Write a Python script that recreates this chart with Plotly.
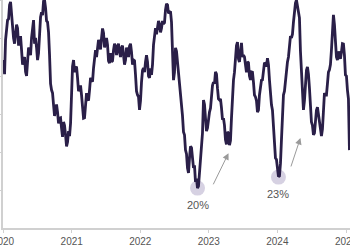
import pandas as pd
import plotly.graph_objects as go

# Series values (percent), evenly spaced from start to end date
start_date = "2020-01-04"
end_date = "2025-01-19"
values = [
    54.2, 50.5, 59.5, 63.5, 64.7, 65.0, 68.7, 69.5, 66.1, 61.0,
    60.0, 58.5, 61.3, 63.5, 62.6, 58.0, 59.5, 60.5, 56.8, 53.0,
    54.2, 55.0, 51.1, 50.0, 53.7, 57.5, 56.8, 55.5, 60.0, 63.5,
    64.7, 58.5, 60.0, 57.5, 54.2, 56.0, 62.1, 65.5, 66.8, 66.0,
    69.7, 70.0, 67.9, 64.5, 64.2, 61.5, 55.5, 48.0, 46.3, 45.5,
    42.4, 39.5, 41.1, 42.5, 40.5, 37.5, 38.9, 39.0, 36.3, 34.0,
    37.9, 37.0, 34.5, 31.5, 32.6, 35.5, 34.2, 37.5, 45.0, 52.5,
    54.2, 51.0, 52.1, 52.5, 49.5, 46.0, 46.8, 47.5, 45.0, 40.5,
    38.9, 39.0, 42.4, 45.5, 44.2, 43.5, 46.3, 49.5, 48.9, 48.5,
    52.1, 55.5, 56.8, 55.0, 57.4, 59.5, 58.4, 57.0, 60.0, 62.5,
    61.3, 57.5, 58.9, 60.0, 58.2, 54.0, 53.4, 56.0, 53.7, 54.0,
    56.8, 58.5, 57.9, 55.5, 57.4, 58.5, 56.3, 55.0, 57.4, 58.0,
    55.5, 53.0, 54.2, 57.5, 56.3, 55.0, 57.9, 58.5, 56.3, 53.0,
    54.2, 54.0, 50.3, 46.0, 45.0, 44.5, 41.1, 43.5, 48.4, 51.5,
    52.1, 51.0, 53.7, 55.5, 53.7, 50.0, 49.5, 52.0, 50.3, 53.0,
    58.2, 61.5, 62.6, 61.0, 63.2, 64.5, 63.7, 61.5, 62.6, 64.5,
    63.7, 64.0, 67.4, 69.0, 68.7, 66.5, 66.8, 67.0, 64.2, 55.0,
    48.9, 51.0, 57.4, 56.5, 53.7, 51.5, 47.6, 46.0, 41.6, 39.5,
    35.3, 34.5, 30.5, 29.5, 25.8, 24.5, 28.4, 31.5, 31.1, 27.0,
    25.8, 26.5, 22.1, 23.0, 20.5, 21.0, 24.7, 28.0, 30.5, 35.0,
    43.7, 42.5, 38.9, 35.5, 36.3, 39.5, 40.5, 41.5, 45.0, 47.5,
    48.4, 48.0, 51.1, 50.5, 46.8, 44.0, 43.7, 44.0, 41.6, 38.5,
    38.9, 37.0, 33.2, 32.0, 35.3, 35.0, 31.8, 33.0, 38.9, 45.5,
    48.9, 51.0, 55.5, 58.0, 58.9, 54.5, 53.7, 57.5, 58.7, 55.0,
    55.5, 55.0, 52.4, 51.0, 53.7, 53.5, 50.0, 49.0, 51.1, 51.0,
    48.4, 45.0, 44.5, 43.5, 40.5, 41.0, 45.0, 48.0, 48.9, 49.0,
    51.6, 53.5, 53.2, 52.5, 54.7, 53.0, 48.9, 44.0, 42.4, 41.0,
    37.1, 31.0, 28.4, 28.0, 24.7, 23.5, 23.7, 27.0, 33.2, 40.5,
    45.0, 46.0, 48.9, 52.5, 53.7, 55.0, 58.2, 60.5, 60.0, 61.0,
    64.2, 67.5, 69.2, 70.0, 68.4, 67.5, 65.3, 56.5, 51.6, 47.0,
    41.1, 43.5, 48.9, 51.5, 52.4, 50.5, 46.8, 41.0, 37.9, 37.0,
    34.5, 35.0, 38.4, 41.0, 41.8, 40.0, 37.1, 36.5, 34.2, 36.0,
    43.2, 45.5, 45.0, 45.0, 47.9, 51.0, 51.6, 53.0, 56.8, 63.0,
    66.1, 63.5, 58.9, 55.0, 54.2, 56.5, 55.5, 54.5, 56.3, 58.5,
    58.4, 55.5, 50.3, 50.0, 46.3, 44.0, 30.5,
]
dates = pd.date_range(start_date, end_date, periods=len(values))

# Highlighted troughs
trough_dates = ["2022-11-02", "2024-01-07"]
trough_values = [20.5, 23.4]
trough_labels = ["20%", "23%"]

year_ticks = ["2020-01-01", "2021-01-01", "2022-01-01", "2023-01-01", "2024-01-01", "2025-01-01"]
year_labels = ["2020", "2021", "2022", "2023", "2024", "2025"]
y_ticks = [20, 30, 40, 50, 60, 70]

fig = go.Figure()
fig.add_trace(go.Scatter(
    x=trough_dates, y=trough_values, mode="markers",
    marker=dict(size=15, color="rgba(200,194,216,0.75)", line=dict(width=0)),
    hoverinfo="skip", showlegend=False,
))
fig.add_trace(go.Scatter(
    x=dates, y=values, mode="lines",
    line=dict(color="#2a1f48", width=2.8),
    showlegend=False,
))

for d, v, t in zip(trough_dates, trough_values, trough_labels):
    fig.add_annotation(x=d, y=v, text=t, showarrow=False, yshift=-17,
                       font=dict(family="Liberation Sans, Arial", size=11, color="#555555"))

# Arrows
arrows = [
    ("2023-01-21", 21.1, "2023-04-16", 29.7),
    ("2024-03-11", 25.8, "2024-05-03", 33.7),
]
for tx, ty, hx, hy in arrows:
    fig.add_annotation(x=hx, y=hy, ax=tx, ay=ty, xref="x", yref="y", axref="x", ayref="y",
                       showarrow=True, arrowhead=2, arrowsize=1.3, arrowwidth=1,
                       arrowcolor="#9a9a9a", text="")

fig.update_layout(
    width=350, height=250,
    margin=dict(l=3, r=0, t=0, b=22),
    paper_bgcolor="white", plot_bgcolor="white",
    xaxis=dict(
        type="date", range=["2020-01-01", "2025-01-22"],
        tickvals=year_ticks, ticktext=year_labels,
        showgrid=False, zeroline=False, automargin=False,
        showline=True, linecolor="#d0d0d0", linewidth=1.5,
        ticks="outside", ticklen=3, tickcolor="#d0d0d0",
        ticklabeloverflow="allow",
        tickfont=dict(family="Liberation Sans, Arial", size=10, color="#555555"),
    ),
    yaxis=dict(
        range=[10, 70], tickvals=y_ticks, showticklabels=False,
        showgrid=False, zeroline=False, automargin=False,
        showline=True, linecolor="#d0d0d0", linewidth=1.5,
        ticks="outside", ticklen=3, tickcolor="#d0d0d0",
    ),
)

fig.write_html("out.html")
